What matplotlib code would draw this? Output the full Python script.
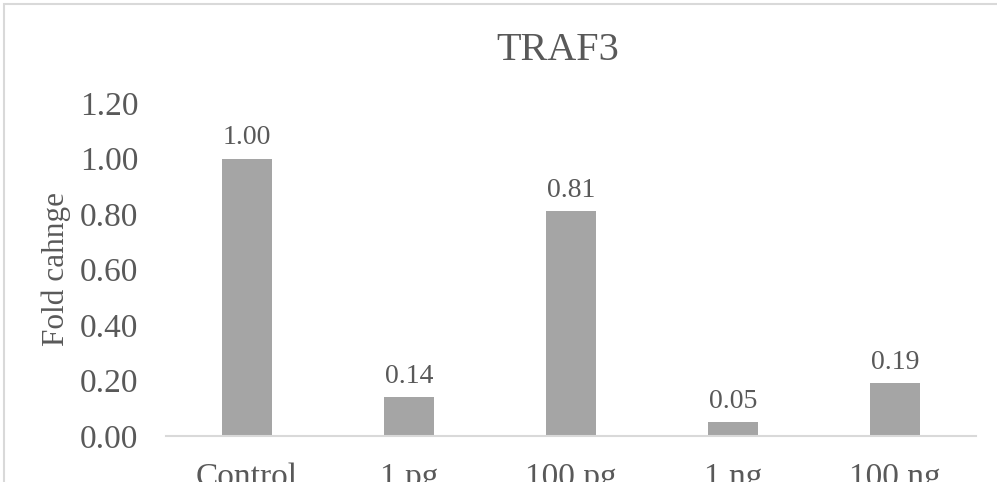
import matplotlib
matplotlib.use("Agg")
import matplotlib.pyplot as plt
from matplotlib.patches import Rectangle

categories = ["Control", "1 pg", "100 pg", "1 ng", "100 ng"]
fold_change = [1.00, 0.14, 0.81, 0.05, 0.19]
yticks = [0.0, 0.2, 0.4, 0.6, 0.8, 1.0, 1.2]

text_col = "#595959"
bar_col = "#A5A5A5"
line_col = "#D9D9D9"

plt.rcParams["font.family"] = ["Liberation Serif", "DejaVu Serif"]

W, H = 997, 482
fig = plt.figure(figsize=(W / 100, H / 100), dpi=100)
ax = fig.add_axes([166 / W, 46 / H, (976 - 166) / W, 333 / H])

x = range(len(categories))
bars = ax.bar(x, fold_change, width=0.31, color=bar_col)
for b, v in zip(bars, fold_change):
    ax.annotate("%.2f" % v, (b.get_x() + b.get_width() / 2, v),
                xytext=(0, 6), textcoords="offset points",
                ha="center", va="bottom", fontsize=20, color=text_col)

ax.set_xlim(-0.5, len(categories) - 0.5)
ax.set_ylim(0, 1.2)
ax.set_yticks(yticks)
ax.set_yticklabels(["%.2f" % t for t in yticks])
ax.set_xticks(list(x))
ax.set_xticklabels(categories)
ax.tick_params(axis="both", length=0, labelsize=24, colors=text_col)
ax.tick_params(axis="y", pad=20)
ax.tick_params(axis="x", pad=19)

for s in ["top", "right", "left"]:
    ax.spines[s].set_visible(False)
ax.spines["bottom"].set_color(line_col)
ax.spines["bottom"].set_linewidth(1.5)

ax.set_ylabel("Fold cahnge", fontsize=22.5, color=text_col, labelpad=6)
fig.text(558 / W, 1 - 50 / H, "TRAF3", ha="center", va="center",
         fontsize=29, color=text_col)

# chart frame (cropped at right and bottom)
fig.patches.append(Rectangle((4 / W, -0.1), 1.2, 1 - 4 / H + 0.1,
                             transform=fig.transFigure, fill=False,
                             edgecolor=line_col, linewidth=1.5))

fig.savefig("out.png", dpi=100)
